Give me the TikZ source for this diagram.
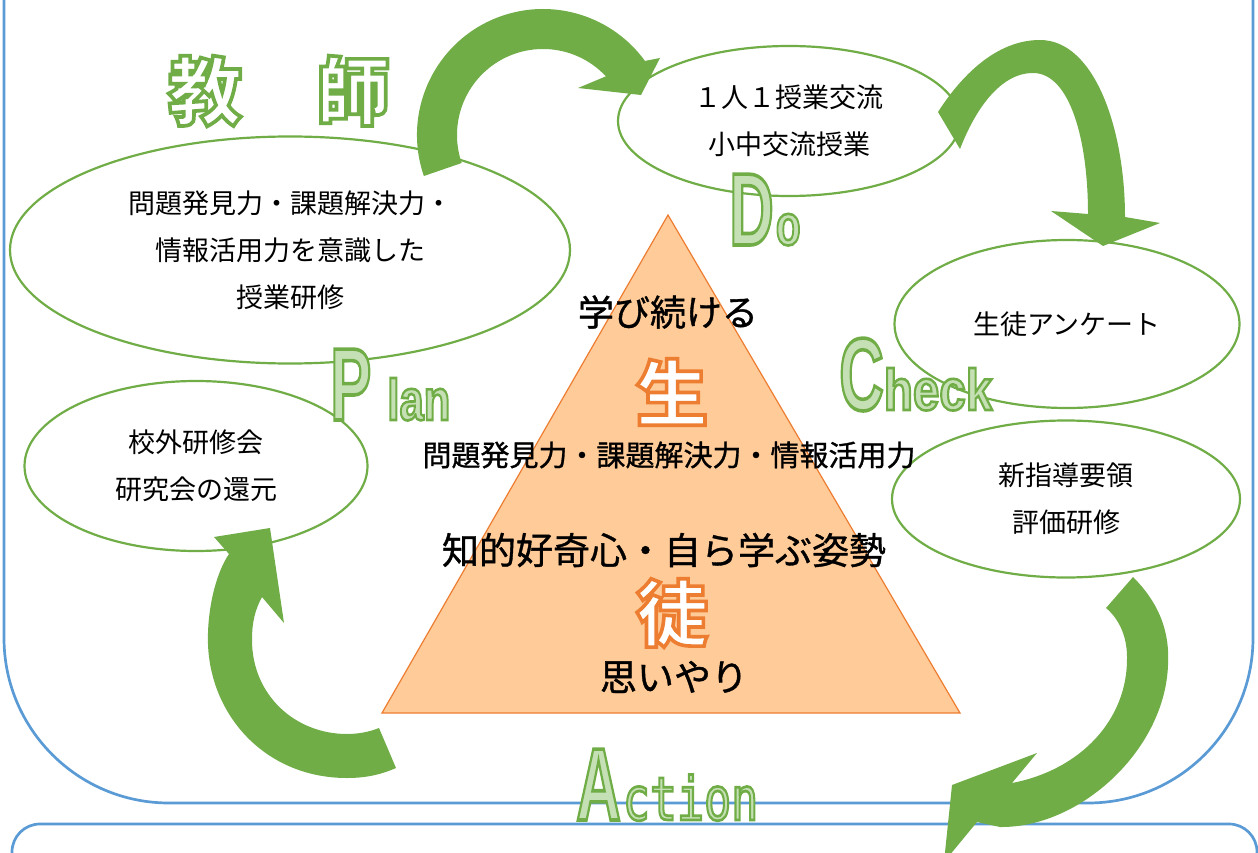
\documentclass[tikz,border=0pt]{standalone}
\usepackage{fontspec}
\usepackage{graphicx}
\usetikzlibrary{shapes.geometric}
\setmainfont{Noto Sans CJK JP}
\newfontfamily\jpm[FakeBold=1]{Noto Sans CJK JP}
\newfontfamily\okanji[FakeBold=5]{Noto Sans CJK JP}
\newfontfamily\latb[FakeBold=3.5]{Liberation Sans}
\newfontfamily\lats[FakeBold=4.5]{Liberation Sans}
\newfontfamily\mono[FakeBold=4.5]{DejaVu Sans Mono}
\definecolor{grn}{HTML}{70AD47}
\definecolor{lgrn}{HTML}{C5E0B4}
\definecolor{blu}{HTML}{5B9BD5}
\definecolor{org}{HTML}{ED7D31}
\definecolor{peach}{HTML}{FFCB98}
\newcommand\skg{\special{pdf:literal direct 0.439 0.678 0.278 RG}}
\newcommand\sko{\special{pdf:literal direct 0.929 0.490 0.192 RG}}
\newcommand\BigL[1]{\scalebox{0.6}[1]{\skg\latb\bfseries\fontsize{103}{103}\selectfont #1}}
\newcommand\SmallL[2]{\scalebox{#1}[1]{\skg\lats\bfseries\fontsize{58}{58}\selectfont #2}}
\begin{document}
\begin{tikzpicture}[x=1pt,y=-1pt,
  ell/.style={ellipse, draw=grn, line width=2.2pt, fill=white, inner sep=0pt, align=center, font=\fontsize{27}{47}\selectfont},
  frame/.style={draw=blu, line width=2.7pt},
  garrow/.style={fill=grn},
  tri/.style={fill=peach, draw=org, line width=1.2pt},
  ttxt/.style={inner sep=0pt},
  olet/.style={inner sep=0pt, anchor=base west, text=lgrn},
  okj/.style={inner sep=0pt, text=white}]
\useasboundingbox (0,0) rectangle (1258,853);
\clip (0,0) rectangle (1258,853);
% frames
\draw[frame, rounded corners=165pt] (4,-400) rectangle (1253,803);
\draw[frame, rounded corners=28pt] (12,824) rectangle (1257,1000);
% triangle
\filldraw[tri] (668,215) -- (382,713) -- (960,713) -- cycle;
% ellipses
\node (pl) [ell, minimum width=560pt, minimum height=227pt] at (290,250) {問題発見力・課題解決力・\\情報活用力を意識した\\授業研修};
\node (do) [ell, minimum width=342pt, minimum height=150pt] at (789,121) {１人１授業交流\\小中交流授業};
\node (ck) [ell, minimum width=345pt, minimum height=168pt] at (1067,324) {生徒アンケート};
\node (ev) [ell, minimum width=348pt, minimum height=157pt] at (1066,499) {新指導要領\\評価研修};
\node (ex) [ell, minimum width=343pt, minimum height=170pt] at (196,466) {校外研修会\\研究会の還元};
% triangle texts
\node (t1) [ttxt] at (668,312) {\jpm\fontsize{36}{36}\selectfont 学び続ける};
\node (t2) [ttxt] at (669,455) {\jpm\fontsize{29}{29}\selectfont 問題発見力・課題解決力・情報活用力};
\node (t3) [ttxt] at (664,550) {\jpm\fontsize{37}{37}\selectfont 知的好奇心・自ら学ぶ姿勢};
\node (t4) [ttxt] at (674,677) {\jpm\fontsize{37}{37}\selectfont 思いやり};
\node (sei) [okj] at (672,392) {\sko\okanji\bfseries\fontsize{72}{72}\selectfont 生};
\node (to) [okj] at (672,613) {\sko\okanji\bfseries\fontsize{72}{72}\selectfont 徒};
\node (kyo) [okj] at (279,91) {\skg\okanji\bfseries\fontsize{74}{74}\selectfont 教　師};
% arrows
\fill[garrow] ([shift={(543,135)}]161:126) arc[start angle=161,end angle=324,radius=126] -- (660,58) -- (641,95) -- (578,88) -- ([shift={(543,135)}]317:86) arc[start angle=317,end angle=161,radius=86] -- cycle;
\fill[garrow] (938,112) .. controls (965,70) and (1000,40) .. (1040,40) .. controls (1095,40) and (1125,130) .. (1125,217) -- (1160,223) -- (1103,246) -- (1051,211) -- (1088,214) .. controls (1088,140) and (1070,73) .. (1033,73) .. controls (1000,73) and (975,110) .. (960,149) -- cycle;
\fill[garrow] (1133,577) .. controls (1158,602) and (1170,630) .. (1168,665) .. controls (1165,750) and (1080,828) .. (1000,827) -- (977,822) -- (944,862) -- (952,785) -- (1037,753) -- (1012,783) .. controls (1080,770) and (1128,720) .. (1127,657) .. controls (1127,635) and (1118,618) .. (1106,608) -- cycle;
\fill[garrow] (396,768) .. controls (380,775) and (365,778) .. (347,778) .. controls (262,778) and (205,710) .. (208,633) .. controls (209,600) and (218,570) .. (229,554) -- (214,537) -- (270,528) -- (284,623) -- (262,597) .. controls (255,610) and (252,622) .. (252,640) .. controls (252,695) and (295,734) .. (347,734) .. controls (358,734) and (369,732) .. (379,728) -- cycle;
% PDCA letters
\node (plan) [olet] at (330,420) {\BigL{P}\hspace{16pt}\SmallL{0.75}{lan}};
\node (dol) [olet] at (729,245) {\BigL{D}\hspace{2pt}\SmallL{0.7}{o}};
\node (check) [olet] at (839,410) {\BigL{C}\SmallL{0.82}{heck}};
\node (act) [olet] at (576,820) {\BigL{A}\hspace{2pt}\scalebox{0.75}[1]{\skg\mono\fontsize{60}{60}\selectfont ction}};
\end{tikzpicture}
\end{document}
